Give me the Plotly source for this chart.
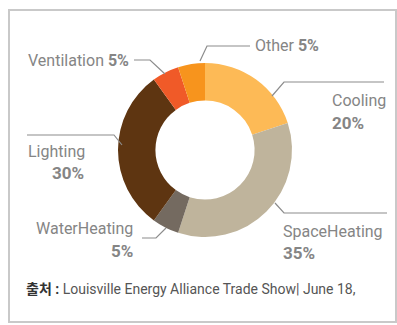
import plotly.graph_objects as go

# Residential energy use breakdown
categories = ["Cooling", "SpaceHeating", "WaterHeating", "Lighting", "Ventilation", "Other"]
shares = [20, 35, 5, 30, 5, 5]
colors = ["#FDBA56", "#BFB49C", "#746A60", "#5E3511", "#F05A28", "#F7941D"]

W, H = 397, 325
FONT = "Roboto, Arial, sans-serif"
GRAY = "#858585"


def px(x):
    return x / W


def py(y):
    return 1 - y / H


fig = go.Figure(
    go.Pie(
        labels=categories,
        values=shares,
        marker=dict(colors=colors, line=dict(width=0)),
        hole=0.57,
        sort=False,
        direction="clockwise",
        rotation=0,
        textinfo="none",
        hoverinfo="label+percent",
        domain=dict(x=[px(118), px(292)], y=[py(237), py(63)]),
        showlegend=False,
    )
)

shapes = []
# outer frame
shapes.append(dict(type="rect", xref="paper", yref="paper",
                   x0=px(9), x1=px(396), y0=py(322), y1=py(10),
                   line=dict(color="#c9c9c9", width=2), fillcolor="rgba(0,0,0,0)"))

# leader lines (polyline points in pixel space)
leaders = [
    [(134, 60), (150, 60), (165, 74)],          # Ventilation
    [(250, 46), (207, 46), (200, 61)],          # Other
    [(384, 82), (284, 82), (272, 96)],          # Cooling
    [(387, 213), (284, 213), (275, 203)],       # SpaceHeating
    [(142, 238), (156, 238), (166, 228)],       # WaterHeating
    [(27, 135), (114, 135), (122, 145)],        # Lighting
]
for pts in leaders:
    path = "M " + " L ".join(f"{px(x)},{py(y)}" for x, y in pts)
    shapes.append(dict(type="path", xref="paper", yref="paper", path=path,
                       line=dict(color="#8c8c8c", width=1.2)))

ann = []


def label(text, x, y, anchor="left", size=16):
    ann.append(dict(text=text, x=px(x), y=py(y), xref="paper", yref="paper",
                    xanchor=anchor, yanchor="middle", showarrow=False,
                    font=dict(family=FONT, size=size, color=GRAY), align=anchor))


label(f"{categories[4]} <b>{shares[4]}%</b>", 131, 60, "right")
label(f"{categories[5]} <b>{shares[5]}%</b>", 253, 46, "left")
label(categories[0], 330, 101, "left")
label(f"<b>{shares[0]}%</b>", 330, 123, "left", 17)
label(categories[1], 281, 231, "left")
label(f"<b>{shares[1]}%</b>", 281, 253, "left", 17)
label(categories[2], 135, 228, "right")
label(f"<b>{shares[2]}%</b>", 135, 251, "right", 17)
label(categories[3], 26, 151, "left")
label(f"<b>{shares[3]}%</b>", 86, 173, "right", 17)

ann.append(dict(
    text="<b><span style='font-family:Noto Sans CJK KR;color:#333333'>출처</span>"
         "<span style='color:#333333'> :</span></b> "
         "Louisville Energy Alliance Trade Show| June 18,",
    x=px(24), y=py(288), xref="paper", yref="paper", xanchor="left", yanchor="middle",
    showarrow=False, font=dict(family=FONT, size=14, color="#555555")))

fig.update_layout(
    width=W, height=H,
    margin=dict(l=0, r=0, t=0, b=0),
    paper_bgcolor="white", plot_bgcolor="white",
    shapes=shapes, annotations=ann,
)

fig.write_html("out.html")
